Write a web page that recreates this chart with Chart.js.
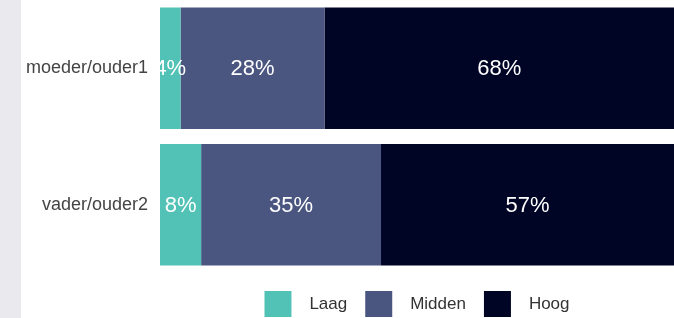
<!DOCTYPE html>
<html>
<head>
<meta charset="utf-8">
<script src="https://cdn.jsdelivr.net/npm/chart.js@4"></script>
<style>
  html, body { margin: 0; padding: 0; background: #e9e9ee; }
  #wrap { position: absolute; left: 21px; top: 0; width: 653px; height: 318px; overflow: hidden; background: #ffffff; }
  #box { position: absolute; left: 0; top: 0; width: 653px; height: 327px; }
</style>
</head>
<body>
<div id="wrap"><div id="box"><canvas id="opleiding-chart"></canvas></div></div>
<script>
// Categories
const parents = ["moeder/ouder1", "vader/ouder2"];

// Series values (percent)
const laag = [4, 8];
const midden = [28, 35];
const hoog = [68, 57];

const seriesNames = ["Laag", "Midden", "Hoog"];
const seriesColors = ["#52c2b6", "#4a5580", "#000425"];

// Percent labels inside the bars
const barLabels = {
  id: "barLabels",
  afterDatasetsDraw(chart) {
    const ctx = chart.ctx;
    ctx.save();
    ctx.font = "22px 'Liberation Sans', Arial, sans-serif";
    ctx.fillStyle = "#ffffff";
    ctx.textAlign = "center";
    ctx.textBaseline = "middle";
    chart.data.datasets.forEach(function (ds, i) {
      chart.getDatasetMeta(i).data.forEach(function (bar, j) {
        const p = bar.getProps(["x", "y", "base"], true);
        ctx.fillText(ds.data[j] + "%", (p.x + p.base) / 2, p.y + 1);
      });
    });
    ctx.restore();
  },
};

const dataBarChart = {
  labels: parents,
  datasets: [laag, midden, hoog].map(function (values, i) {
    return {
      label: seriesNames[i],
      data: values,
      backgroundColor: seriesColors[i],
      borderWidth: 0,
      barPercentage: 1,
      categoryPercentage: 0.89,
    };
  }),
};

const configBarChart = {
  type: "bar",
  data: dataBarChart,
  plugins: [barLabels],
  options: {
    indexAxis: "y",
    responsive: true,
    maintainAspectRatio: false,
    animation: false,
    layout: { padding: { top: -4, left: 0, right: 0, bottom: 0 } },
    plugins: {
      tooltip: { enabled: false },
      legend: {
        position: "bottom",
        fullSize: false,
        labels: {
          boxWidth: 27,
          boxHeight: 26,
          padding: 18,
          color: "#333333",
          font: { family: "'Liberation Sans', Arial, sans-serif", size: 17 },
          generateLabels(chart) {
            return chart.data.datasets.map(function (ds, i) {
              return {
                text: "  " + ds.label,
                fillStyle: ds.backgroundColor,
                strokeStyle: ds.backgroundColor,
                lineWidth: 0,
                fontColor: "#333333",
                hidden: false,
                datasetIndex: i,
              };
            });
          },
        },
      },
    },
    scales: {
      x: {
        display: false,
        stacked: true,
        min: 0,
        max: 100,
      },
      y: {
        stacked: true,
        grid: { display: false, drawTicks: false },
        border: { display: false },
        ticks: {
          padding: 12,
          color: "#444444",
          font: { family: "'Liberation Sans', Arial, sans-serif", size: 18 },
        },
        afterFit(scale) {
          scale.width = 139;
          scale.paddingTop = 0;
          scale.paddingBottom = 0;
        },
      },
    },
  },
};

let opleidingChart = new Chart(
  document.getElementById("opleiding-chart"),
  configBarChart
);
</script>
</body>
</html>
